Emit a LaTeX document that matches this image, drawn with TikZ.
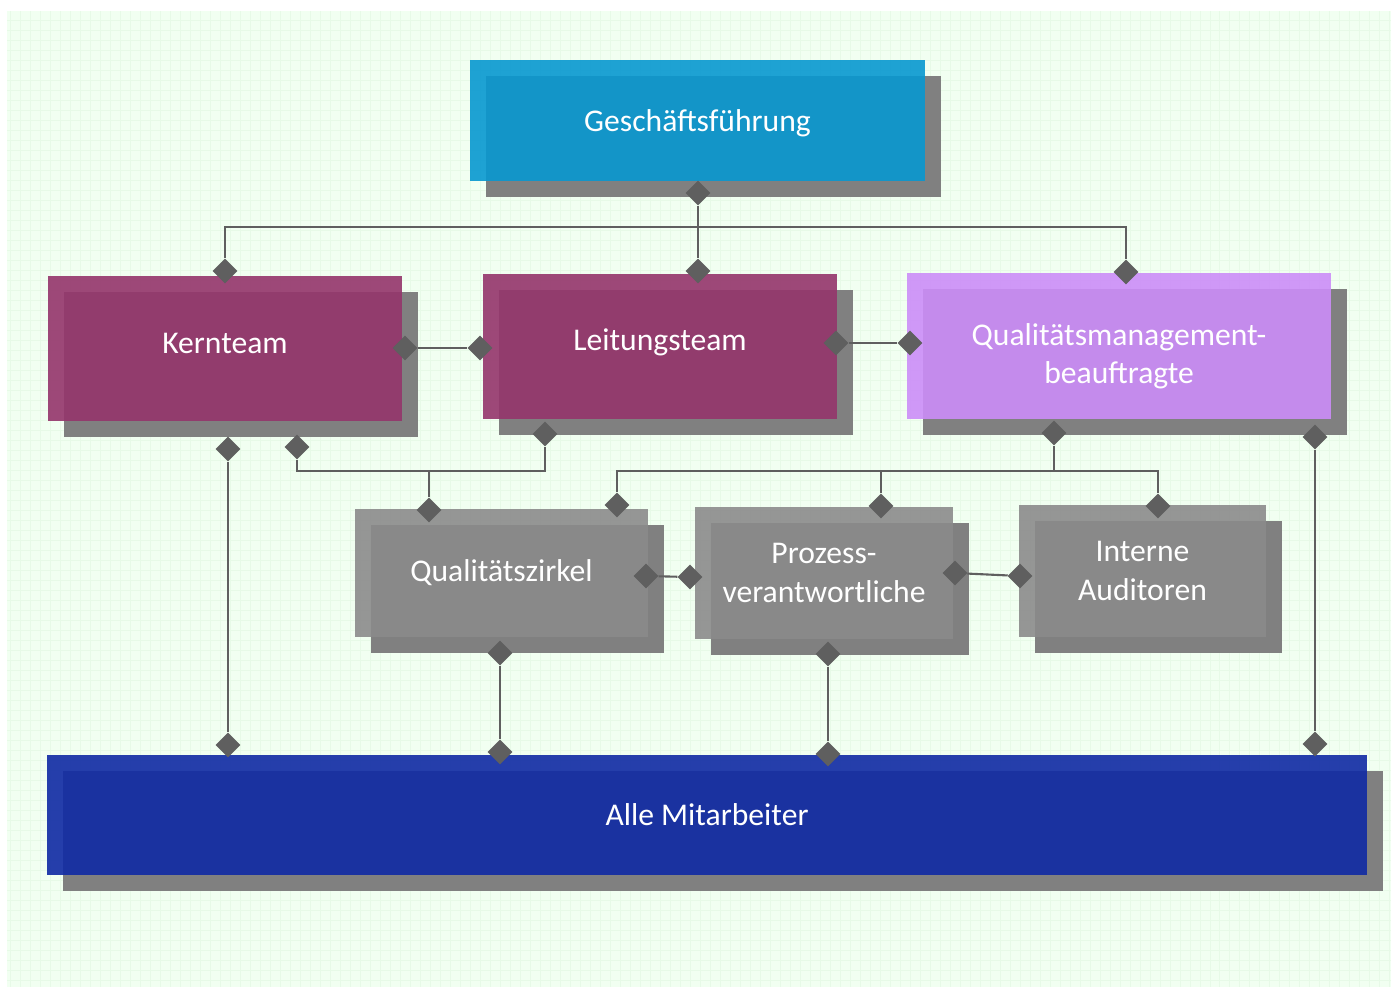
\documentclass[tikz,border=0pt]{standalone}
\usepackage{fontspec}
\setmainfont{Carlito}
\usetikzlibrary{shapes.geometric,shadows}

\definecolor{mint}{HTML}{F1FFF1}
\definecolor{gridmint}{HTML}{E7FAE7}
\definecolor{linegray}{HTML}{5F5F5F}
\definecolor{shadowgray}{HTML}{808080}
\definecolor{gfblue}{HTML}{0898D0}
\definecolor{teamred}{HTML}{94356B}
\definecolor{qmblila}{HTML}{CC8DF8}
\definecolor{zirkelgray}{HTML}{8B8B8B}
\definecolor{mablue}{HTML}{0F2AA4}

\tikzset{
  box/.style={rectangle, inner sep=0pt, text=white, align=center,
    font=\fontsize{18}{22}\selectfont, fill opacity=.9, text opacity=1,
    general shadow={fill=shadowgray, fill opacity=1, shadow xshift=.32cm, shadow yshift=-.32cm}},
  knob/.style={diamond, fill=linegray, inner sep=0pt, minimum size=.5cm},
  link/.style={draw=linegray, line width=1.2pt}
}

\begin{document}
\begin{tikzpicture}[x=0.02cm,y=-0.02cm]
  \useasboundingbox (0,0) rectangle (1391,987);
  \fill[mint] (7,11) rectangle (1391,987);
  \draw[gridmint, line width=.3pt, step=.2cm] (7,11) grid (1391,987);

  % boxes
  \node[box, fill=gfblue, minimum width=9.1cm, minimum height=2.42cm] (gf) at (697.5,120.5) {\rule{0pt}{16pt}Geschäftsführung};
  \node[box, fill=teamred, minimum width=7.08cm, minimum height=2.9cm] (kern) at (225,348.5) {\rule[-5.6pt]{0pt}{5pt}Kernteam};
  \node[box, fill=teamred, minimum width=7.08cm, minimum height=2.9cm] (leit) at (660,346.5) {\rule[-7.4pt]{0pt}{5pt}Leitungsteam};
  \node[box, fill=qmblila, minimum width=8.48cm, minimum height=2.92cm] (qmb) at (1119,346) {\rule{0pt}{24pt}Qualitätsmanagement-\\beauftragte};
  \node[box, fill=zirkelgray, minimum width=5.86cm, minimum height=2.56cm] (zirkel) at (501.5,573) {Qualitätszirkel};
  \node[box, fill=zirkelgray, minimum width=5.16cm, minimum height=2.64cm] (proz) at (824,573) {Prozess-\\verantwortliche};
  \node[box, fill=zirkelgray, minimum width=4.94cm, minimum height=2.64cm] (audit) at (1142.5,571) {Interne\\Auditoren};
  \node[box, fill=mablue, minimum width=26.4cm, minimum height=2.4cm] (alle) at (707,815) {Alle Mitarbeiter};

  % diamonds
  \foreach \n/\x/\y in {gfS/698/193, kernN/225/271, leitN/698/271, qmbN/1126/272,
      kernE/405/348, leitW/480/348, leitE/836/343, qmbW/910/343,
      kernS/228/449, kernSS/297/447, leitS/545/434, zirkelN/429/510,
      qmbS/1054/433, zirkelNN/617/505, prozN/881/506, auditN/1158/506, qmbSS/1315/437,
      zirkelE/646/576, prozW/690/577, prozE/955/573, auditW/1020/576,
      zirkelS/500/653, prozS/828/654,
      alleA/228/745, alleB/500/752, alleC/828/754, alleD/1315/744}
    \node[knob] (\n) at (\x,\y) {};

  \coordinate (j1) at (698,227);
  \coordinate (j2) at (429,471);
  \coordinate (j3) at (1054,471);

  % connectors
  \draw[link] (gfS) -- (leitN);
  \draw[link] (kernN) |- (j1) -| (qmbN);
  \draw[link] (kernE) -- (leitW);
  \draw[link] (leitE) -- (qmbW);
  \draw[link] (kernS) -- (alleA);
  \draw[link] (kernSS) |- (j2) -| (leitS);
  \draw[link] (j2) -- (zirkelN);
  \draw[link] (qmbS) -- (j3);
  \draw[link] (zirkelNN) |- (j3) -| (auditN);
  \draw[link] (prozN) -- (prozN |- j3);
  \draw[link] (qmbSS) -- (alleD);
  \draw[link] (zirkelE) -- (prozW);
  \draw[link] (prozE) -- (auditW);
  \draw[link] (zirkelS) -- (alleB);
  \draw[link] (prozS) -- (alleC);
\end{tikzpicture}
\end{document}
